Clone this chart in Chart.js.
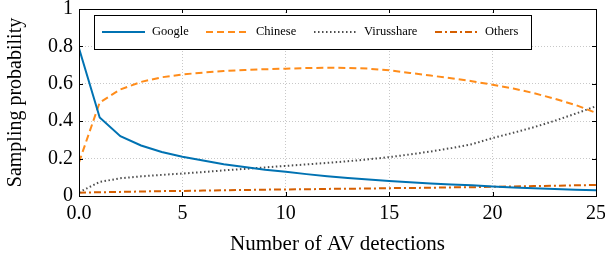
<!DOCTYPE html>
<html>
<head>
<meta charset="utf-8">
<script src="https://cdn.jsdelivr.net/npm/chart.js@4"></script>
<style>
  html, body { margin: 0; padding: 0; background: #fff; }
  #wrap { width: 605px; height: 258px; }
</style>
</head>
<body>
<div id="wrap"><canvas id="chart" width="605" height="258"></canvas></div>
<script>
// data, x = number of AV detections 0..25
const detections = [0,1,2,3,4,5,6,7,8,9,10,11,12,13,14,15,16,17,18,19,20,21,22,23,24,25];
const google = [0.79,0.42,0.32,0.27,0.235,0.21,0.19,0.17,0.155,0.14,0.13,0.117,0.106,0.096,0.088,0.08,0.073,0.067,0.062,0.057,0.051,0.046,0.041,0.037,0.034,0.031];
const chinese = [0.18,0.50,0.57,0.61,0.635,0.65,0.66,0.668,0.674,0.678,0.681,0.684,0.686,0.685,0.681,0.672,0.658,0.644,0.63,0.614,0.595,0.575,0.55,0.52,0.487,0.445];
const virusshare = [0.02,0.075,0.095,0.105,0.113,0.12,0.128,0.137,0.145,0.153,0.161,0.169,0.177,0.186,0.196,0.208,0.222,0.238,0.256,0.277,0.31,0.338,0.368,0.402,0.44,0.48];
const others = [0.018,0.02,0.022,0.024,0.026,0.027,0.029,0.031,0.032,0.034,0.035,0.036,0.038,0.039,0.04,0.042,0.043,0.044,0.046,0.047,0.049,0.051,0.053,0.055,0.057,0.059];
const seriesNames = ['Google','Chinese','Virusshare','Others'];
const xTicks = [0,5,10,15,20,25];

const serif = "'Liberation Serif', 'DejaVu Serif', serif";

function toPoints(arr) {
  return arr.map((v, i) => ({ x: detections[i], y: v }));
}

// kotak legenda di dalam area plot
const legendBox = {
  id: 'legendBox',
  afterDraw(chart) {
    const ctx = chart.ctx;
    const x0 = 94, y0 = 15, x1 = 531, y1 = 49;
    const cy = (y0 + y1) / 2;
    ctx.save();
    ctx.fillStyle = '#fff';
    ctx.fillRect(x0, y0, x1 - x0, y1 - y0);
    ctx.strokeStyle = '#000';
    ctx.lineWidth = 1;
    ctx.setLineDash([]);
    ctx.strokeRect(x0 + 0.5, y0 + 0.5, x1 - x0, y1 - y0);
    const starts = [102, 206, 314, 435];
    ctx.font = '12.5px ' + serif;
    ctx.textBaseline = 'middle';
    chart.data.datasets.forEach((ds, i) => {
      const sx = starts[i];
      ctx.beginPath();
      ctx.strokeStyle = ds.borderColor;
      ctx.lineWidth = ds.borderWidth;
      ctx.setLineDash(ds.borderDash || []);
      ctx.moveTo(sx, cy);
      ctx.lineTo(sx + 43, cy);
      ctx.stroke();
      ctx.setLineDash([]);
      ctx.fillStyle = '#000';
      ctx.fillText(ds.label, sx + 50, cy);
    });
    ctx.restore();
  }
};

// bingkai hitam dan tick kecil ke dalam
const frame = {
  id: 'frame',
  afterDatasetsDraw(chart) {
    const { ctx, chartArea: a, scales } = chart;
    ctx.save();
    ctx.strokeStyle = '#000';
    ctx.lineWidth = 1;
    ctx.setLineDash([]);
    ctx.beginPath();
    scales.x.ticks.forEach(t => {
      const px = Math.round(scales.x.getPixelForValue(t.value)) + 0.5;
      ctx.moveTo(px, a.bottom); ctx.lineTo(px, a.bottom - 4);
      ctx.moveTo(px, a.top); ctx.lineTo(px, a.top + 4);
    });
    scales.y.ticks.forEach(t => {
      const py = Math.round(scales.y.getPixelForValue(t.value)) + 0.5;
      ctx.moveTo(a.left, py); ctx.lineTo(a.left + 4, py);
      ctx.moveTo(a.right, py); ctx.lineTo(a.right - 4, py);
    });
    ctx.stroke();
    ctx.strokeRect(Math.round(a.left) + 0.5, Math.round(a.top) + 0.5, Math.round(a.right - a.left), Math.round(a.bottom - a.top));
    ctx.restore();
  }
};

const ctx = document.getElementById('chart').getContext('2d');
new Chart(ctx, {
  type: 'line',
  data: {
    datasets: [
      { label: seriesNames[0], data: toPoints(google), borderColor: '#0072b2', borderWidth: 2 },
      { label: seriesNames[1], data: toPoints(chinese), borderColor: '#ff8c1a', borderWidth: 2, borderDash: [7, 4] },
      { label: seriesNames[2], data: toPoints(virusshare), borderColor: '#4d4d4d', borderWidth: 2, borderDash: [1.5, 2.5] },
      { label: seriesNames[3], data: toPoints(others), borderColor: '#d55e00', borderWidth: 2, borderDash: [7, 3, 2, 3] }
    ]
  },
  options: {
    responsive: false,
    animation: false,
    elements: { point: { radius: 0 }, line: { tension: 0, fill: false } },
    layout: { padding: { top: 9, right: 9, left: 0, bottom: 0 } },
    plugins: { legend: { display: false }, tooltip: { enabled: false } },
    scales: {
      x: {
        type: 'linear',
        min: 0, max: 25,
        afterBuildTicks: s => { s.ticks = xTicks.map(v => ({ value: v })); },
        afterFit: s => { s.height = 62; s.paddingLeft = 0; s.paddingRight = 0; },
        border: { display: false, dash: [1, 2] },
        grid: { color: '#c8c8c8', drawTicks: false, lineWidth: 1 },
        ticks: {
          color: '#000', padding: 6, maxRotation: 0,
          font: { family: serif, size: 20 },
          callback: v => (v === 0 ? '0.0' : String(v))
        },
        title: {
          display: true, text: 'Number of AV detections', color: '#000',
          font: { family: serif, size: 21 }, padding: { top: 4, bottom: 1 }
        }
      },
      y: {
        min: 0, max: 1,
        ticks: {
          stepSize: 0.2, color: '#000', padding: 6,
          font: { family: serif, size: 20 },
          callback: v => String(Math.round(v * 10) / 10)
        },
        afterFit: s => { s.width = 79; s.paddingTop = 0; s.paddingBottom = 0; },
        border: { display: false, dash: [1, 2] },
        grid: { color: '#c8c8c8', drawTicks: false, lineWidth: 1 },
        title: {
          display: true, text: 'Sampling probability', color: '#000',
          font: { family: serif, size: 20 }, padding: { bottom: 2 }
        }
      }
    }
  },
  plugins: [frame, legendBox]
});
</script>
</body>
</html>
